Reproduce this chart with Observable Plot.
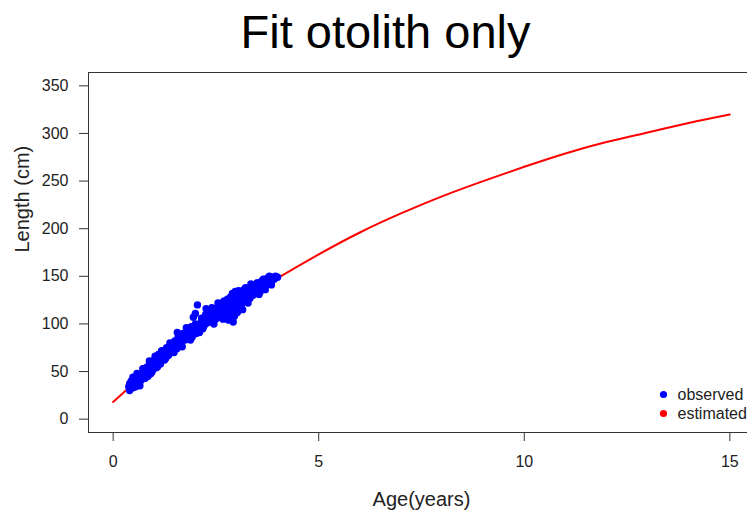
<!DOCTYPE html>
<html>
<head>
<meta charset="utf-8">
<script src="https://cdn.jsdelivr.net/npm/d3@7"></script>
<script src="https://cdn.jsdelivr.net/npm/@observablehq/plot@0.6"></script>
<style>
  html, body { margin: 0; padding: 0; background: #fff; overflow: hidden; }
</style>
</head>
<body>
<div id="chart"></div>
<script>
// Observed otolith samples: [age (years), length (cm)]
const observed = [
  [0.38,34],[0.40,37],[0.42,32],[0.45,36],[0.47,39],[0.48,33],[0.50,35],[0.52,38],[0.44,40],[0.55,41],
  [0.58,37],[0.60,40],[0.62,43],[0.57,45],[0.65,39],[0.66,44],[0.68,47],[0.70,42],[0.72,46],[0.73,50],
  [0.75,44],[0.77,48],[0.78,52],[0.80,47],[0.82,51],[0.84,55],[0.85,49],[0.87,53],[0.88,57],[0.90,52],
  [0.92,56],[0.94,59],[0.95,54],[0.97,58],[0.98,61],[1.00,56],[1.02,60],[1.04,63],[1.05,58],[1.07,61],
  [1.10,64],[1.12,59],[1.14,63],[1.16,66],[1.18,62],[1.20,67],[1.22,64],[1.25,69],[1.27,66],[1.30,71],
  [1.32,68],[1.35,73],[1.37,70],[1.40,75],[1.42,72],[1.45,76],[1.47,74],[1.50,78],[1.52,75],[1.55,80],
  [1.56,91],[1.58,78],[1.60,83],[1.62,80],[1.65,85],[1.67,82],[1.70,87],[1.72,84],[1.75,89],[1.77,86],
  [1.80,90],[1.82,87],[1.85,92],[1.87,89],[1.90,94],[1.92,86],[1.95,107],[1.97,92],[2.00,111],[2.00,96],
  [2.02,90],[2.05,120],[2.05,98],[2.08,94],[2.10,91],[2.10,100],[2.12,97],[2.15,102],[2.18,95],[2.20,104],
  [2.22,99],[2.25,106],[2.26,116],[2.28,101],[2.31,114],[2.30,108],[2.33,104],[2.35,110],[2.38,106],[2.40,112],
  [2.42,108],[2.45,114],[2.47,104],[2.50,116],[2.50,110],[2.52,106],[2.55,118],[2.55,112],[2.58,108],[2.60,120],
  [2.60,114],[2.62,110],[2.65,122],[2.65,116],[2.67,105],[2.70,118],[2.70,124],[2.72,112],[2.75,120],[2.75,108],
  [2.78,126],[2.78,116],[2.80,122],[2.80,104],[2.82,113],[2.85,128],[2.85,118],[2.87,110],[2.88,124],[2.90,132],
  [2.90,120],[2.92,102],[2.92,114],[2.95,126],[2.95,108],[2.97,134],[2.98,118],[3.00,122],[3.00,129],[3.02,112],
  [3.04,126],[3.05,135],[3.06,118],[3.08,130],[3.10,124],[3.12,120],[3.12,133],[3.15,128],[3.15,115],[3.18,136],
  [3.20,125],[3.20,131],[3.22,138],[3.25,128],[3.25,134],[3.28,122],[3.30,131],[3.30,137],[3.33,127],[3.35,134],
  [3.38,140],[3.40,130],[3.42,136],[3.45,141],[3.45,132],[3.48,138],[3.50,135],[3.52,143],[3.55,139],[3.58,134],
  [3.60,141],[3.62,145],[3.65,138],[3.68,143],[3.70,147],[3.72,141],[3.75,145],[3.78,149],[3.80,143],[3.82,147],
  [3.85,145],[3.88,149],[3.92,147],[3.95,150],[4.00,149],
  [0.42,38],[0.50,41],[0.55,34],[0.62,38],[0.68,41],[0.75,51],[0.80,54],[0.85,45],[0.90,59],[0.95,50],
  [1.00,62],[1.05,54],[1.10,68],[1.15,58],[1.20,71],[1.25,62],[1.30,75],[1.35,67],[1.40,79],[1.45,71],
  [1.50,82],[1.55,74],[1.60,87],[1.65,78],[1.70,90],[1.75,83],[1.80,94],[1.85,85],[1.90,97],[1.95,89],
  [2.00,100],[2.05,93],[2.15,106],[2.20,97],[2.25,110],[2.35,102],[2.40,117],[2.45,100],[2.55,122],[3.35,142],
  [3.50,143],[3.55,131],[3.65,147],[3.70,136],[3.80,150],[3.85,141],
  [0.40,30],[0.48,44],[0.58,48],[0.65,35],[0.72,53],[0.78,43],[0.88,61],[0.92,48],[1.02,66],[1.08,55],
  [1.18,72],[1.28,64],[1.38,80],[1.48,70],[1.58,86],[1.68,76],[1.78,96],[1.88,83]
];

// Estimated growth curve, length at each age
const fitAge    = [0, 1, 2, 3, 4, 5, 6, 7, 8, 9, 10, 11, 12, 13, 14, 15];
const fitLength = [18, 56, 90, 121, 148, 173, 196, 216, 234, 250, 265, 279, 291, 301, 311, 320];

const xTicks = [0, 5, 10, 15];
const yTicks = [0, 50, 100, 150, 200, 250, 300, 350];

const legendLabels = ["observed", "estimated"];
const legendColors = ["#0000ff", "#ff0000"];

const fit = fitAge.map((a, i) => ({age: a, length: fitLength[i]}));
const obs = observed.map(([age, length]) => ({age, length}));

const chart = Plot.plot({
  width: 760,
  height: 516,
  marginLeft: 88,
  marginRight: 6,
  marginTop: 72,
  marginBottom: 84,
  style: {
    fontFamily: "'Liberation Sans', Arial, sans-serif",
    fontSize: "16px",
    color: "#222",
    overflow: "visible",
    maxWidth: "none",
    width: "760px",
    height: "516px"
  },
  x: {domain: [-0.6, 15.6]},
  y: {domain: [-14, 364]},
  marks: [
    Plot.frame({stroke: "#333", strokeWidth: 1}),
    Plot.axisX({ticks: xTicks, tickSize: 9, tickPadding: 14, tickFormat: d => String(d), fontSize: 16, label: null, stroke: "#333"}),
    Plot.axisY({ticks: yTicks, tickSize: 9, tickPadding: 11, tickFormat: d => String(d), fontSize: 16, label: null, stroke: "#333"}),
    Plot.line(fit, {x: "age", y: "length", stroke: "#ff0000", strokeWidth: 2, curve: "natural"}),
    Plot.dot(obs, {x: "age", y: "length", r: 3.7, fill: "#0000ff", stroke: null}),
    // titles
    Plot.text(["Fit otolith only"], {frameAnchor: "top", dx: -36, dy: -40, fontSize: 47, fill: "#000", lineAnchor: "middle"}),
    Plot.text(["Age(years)"], {frameAnchor: "bottom", dy: 67, fontSize: 20, fill: "#222", lineAnchor: "middle"}),
    Plot.text(["Length (cm)"], {frameAnchor: "left", dx: -66, rotate: -90, fontSize: 20, fill: "#222", lineAnchor: "middle"}),
    // legend
    Plot.dot([legendColors[0]], {frameAnchor: "bottom-right", dx: -91, dy: -38, r: 3.6, fill: d => d, stroke: null}),
    Plot.dot([legendColors[1]], {frameAnchor: "bottom-right", dx: -91, dy: -19, r: 3.6, fill: d => d, stroke: null}),
    Plot.text([legendLabels[0]], {frameAnchor: "bottom-right", dx: -77, dy: -38, textAnchor: "start", lineAnchor: "middle", fontSize: 16, fill: "#222"}),
    Plot.text([legendLabels[1]], {frameAnchor: "bottom-right", dx: -77, dy: -19, textAnchor: "start", lineAnchor: "middle", fontSize: 16, fill: "#222"})
  ]
});

document.getElementById("chart").appendChild(chart);
</script>
</body>
</html>
